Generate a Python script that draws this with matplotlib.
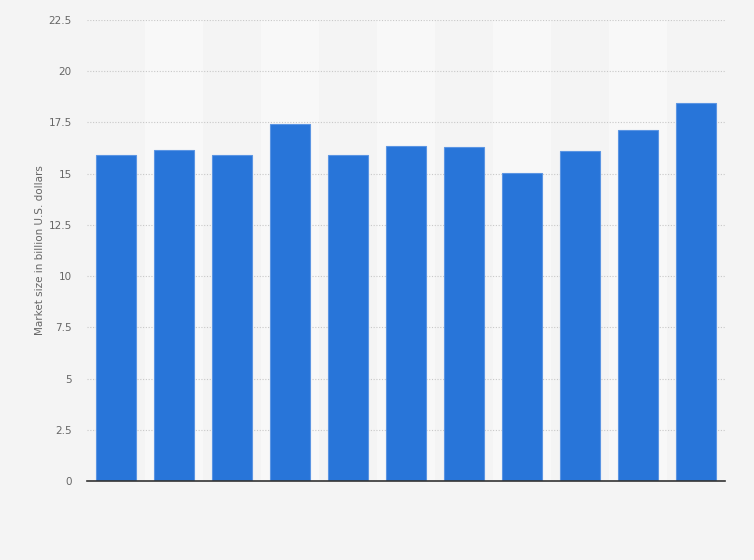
import matplotlib.pyplot as plt
import numpy as np

# market size per year (billion U.S. dollars), x labels are not shown in the source
market_size = [15.9, 16.15, 15.9, 17.42, 15.9, 16.35, 16.3, 15.02, 16.1, 17.12, 18.43]
y_ticks = [0, 2.5, 5, 7.5, 10, 12.5, 15, 17.5, 20, 22.5]
y_tick_labels = ["0", "2.5", "5", "7.5", "10", "12.5", "15", "17.5", "20", "22.5"]

fondo = "#f4f4f4"
azul = "#2875d9"

fig = plt.figure(figsize=(7.54, 5.6), dpi=100, facecolor=fondo)
ax = fig.add_axes([87 / 754, 1 - 481 / 560, 638 / 754, 461 / 560])
ax.set_facecolor(fondo)

x = np.arange(len(market_size))

# alternating column bands
for i in x:
    if i % 2 == 1:
        ax.axvspan(i - 0.5, i + 0.5, color="#f8f8f8", zorder=0, lw=0)

ax.bar(
    x,
    market_size,
    width=0.69,
    color=azul,
    edgecolor="#5b95e3",
    linewidth=0.8,
    zorder=3,
)

ax.set_xlim(-0.5, len(market_size) - 0.5)
ax.set_ylim(0, 22.5)
ax.set_yticks(y_ticks)
ax.set_yticklabels(y_tick_labels)
ax.set_xticks([])

ax.yaxis.grid(True, linestyle=(0, (1, 1.5)), color="#c8c8c8", linewidth=0.8, zorder=1)
ax.set_axisbelow(True)

for s in ["top", "left", "right"]:
    ax.spines[s].set_visible(False)
ax.spines["bottom"].set_color("#333333")
ax.spines["bottom"].set_linewidth(1.2)
ax.spines["bottom"].set_zorder(4)

ax.tick_params(axis="y", length=0, pad=11, labelsize=7.5, labelcolor="#666666")
for lbl in ax.get_yticklabels():
    lbl.set_horizontalalignment("right")

ax.set_ylabel("Market size in billion U.S. dollars", fontsize=7.5, color="#666666")
ax.yaxis.set_label_coords(-42 / 638, 0.5)

plt.savefig("out.png", dpi=100, facecolor=fondo)
